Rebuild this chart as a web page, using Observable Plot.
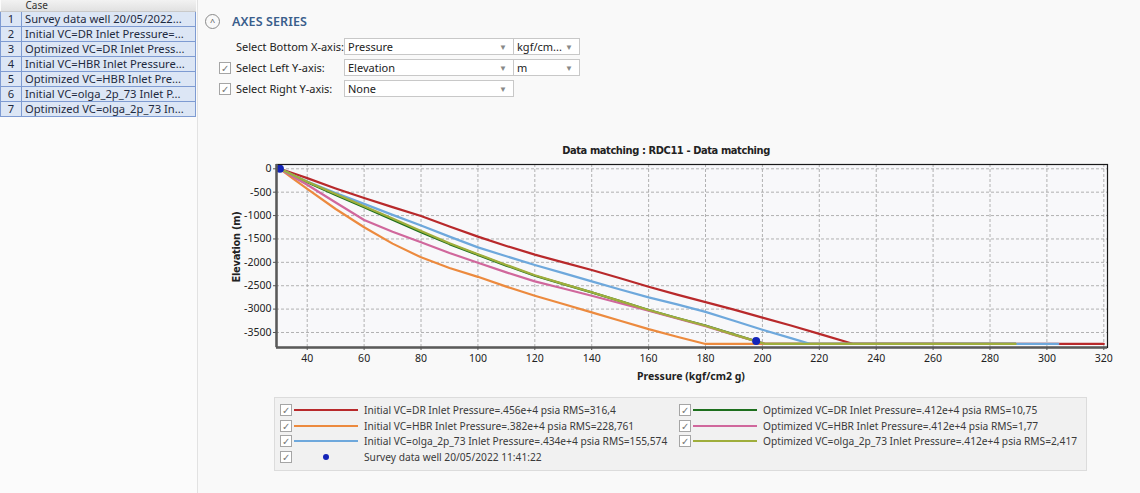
<!DOCTYPE html>
<html>
<head>
<meta charset="utf-8">
<script src="https://cdn.jsdelivr.net/npm/d3@7"></script>
<script src="https://cdn.jsdelivr.net/npm/@observablehq/plot@0.6"></script>
<style>
  html, body { margin: 0; padding: 0; }
  body { width: 1140px; height: 493px; background: #f9f9f9; position: relative; overflow: hidden;
         font-family: "Noto Sans", "Open Sans", sans-serif; color: #222; }
  .abs { position: absolute; }
  #leftpanel { left: 0; top: 0; width: 197px; height: 493px; background: #fbfbfb; border-right: 1px solid #e2e2e2; }
  table.cases { position: absolute; left: 0; top: 0; border-collapse: collapse; font-size: 11.2px; }
  table.cases td { height: 14px; padding: 0 0 0 4px; white-space: nowrap; line-height: 14px; }
  table.cases th { background: linear-gradient(#f2f2f2, #e1e1e1); font-weight: normal; text-align: left; border-bottom: 1px solid #c9c9c9;
                   height: 11px; line-height: 11px; font-size: 10px; color:#333; vertical-align: top; padding: 0 0 0 4px; }
  table.cases td { background: #dce6f5; border: 1px solid #7e9bd2; color: #1e2a40; }
  table.cases td.n { width: 17px; text-align: center; padding: 0; }
  table.cases td.c { width: 170px; padding-left: 3px; overflow: hidden; }
  .lbl { font-size: 11px; color: #222; }
  .dd { position: absolute; height: 17px; background: #fff; border: 1px solid #c8c8c8; font-size: 11px; line-height: 16px; padding-left: 3px; box-sizing: border-box; }
  .dd .arr { position: absolute; right: 6px; top: 0; color: #888; font-size: 8px; }
  .cb { position: absolute; width: 12px; height: 12px; border: 1px solid #a5a5a5; background: #fff; box-sizing: border-box;
        font-size: 10px; line-height: 11px; text-align: center; color: #777; }
  #legend { left: 274px; top: 397px; width: 813px; height: 74px; background: #f1f1f1; border: 1px solid #dcdcdc; box-sizing: border-box; }
  .lgtext { position: absolute; font-size: 10.2px; color: #3a3a3a; white-space: nowrap; line-height: 14px; }
  .lgline { position: absolute; height: 2px; }
  .cond { font-family: 'Liberation Sans Narrow', 'DejaVu Sans Condensed', sans-serif; font-weight: bold; }
</style>
</head>
<body>
<div id="leftpanel" class="abs">
  <table class="cases" id="cases"></table>
</div>

<!-- Axes series panel -->
<div class="abs" style="left:205px;top:14px;width:15px;height:15px;border:1px solid #8a8a8a;border-radius:50%;box-sizing:border-box;text-align:center;font-size:9px;line-height:13px;color:#555;">&#94;</div>
<div class="abs" style="left:232px;top:13px;font-size:12.5px;font-weight:600;color:#3a5e8c;letter-spacing:0.1px;">AXES SERIES</div>

<div class="abs lbl" style="left:236px;top:39px;">Select Bottom X-axis:</div>
<div class="dd" style="left:344px;top:38px;width:170px;">Pressure<span class="arr">&#9660;</span></div>
<div class="dd" style="left:513px;top:38px;width:67px;">kgf/cm...<span class="arr">&#9660;</span></div>

<div class="cb" style="left:219px;top:62px;">&#10003;</div>
<div class="abs lbl" style="left:236px;top:60px;">Select Left Y-axis:</div>
<div class="dd" style="left:344px;top:59px;width:170px;">Elevation<span class="arr">&#9660;</span></div>
<div class="dd" style="left:513px;top:59px;width:67px;">m<span class="arr">&#9660;</span></div>

<div class="cb" style="left:219px;top:83px;">&#10003;</div>
<div class="abs lbl" style="left:236px;top:81px;">Select Right Y-axis:</div>
<div class="dd" style="left:344px;top:80px;width:170px;">None<span class="arr">&#9660;</span></div>

<div class="abs cond" style="left:200px;top:144px;width:932px;text-align:center;font-size:11px;letter-spacing:-0.4px;color:#222;">Data matching : RDC11 - Data matching</div>

<div id="chart" class="abs" style="left:200px;top:140px;"></div>

<div class="abs cond" style="left:236px;top:247px;transform:translate(-50%,-50%) rotate(-90deg);font-size:11px;letter-spacing:-0.3px;white-space:nowrap;color:#222;">Elevation (m)</div>
<div class="abs" style="left:691px;top:369px;transform:translateX(-50%);font-weight:bold;font-size:10.5px;white-space:nowrap;color:#222;">Pressure (kgf/cm2 g)</div>

<div id="legend" class="abs"></div>

<script>
// ---- Case table ----
const caseNames = [
  "Survey data well 20/05/2022...",
  "Initial VC=DR Inlet Pressure=...",
  "Optimized VC=DR Inlet Press...",
  "Initial VC=HBR Inlet Pressure...",
  "Optimized VC=HBR Inlet Pre...",
  "Initial VC=olga_2p_73 Inlet P...",
  "Optimized VC=olga_2p_73 In..."
];

// ---- Axis ticks ----
const xTicks = [40, 60, 80, 100, 120, 140, 160, 180, 200, 220, 240, 260, 280, 300, 320];
const yTicks = [0, -500, -1000, -1500, -2000, -2500, -3000, -3500];
const xDomain = [29.2, 321.3];
const yDomain = [-3821, 92];

// ---- Series (pressure kgf/cm2 g, elevation m) ----
const seriesNames = [
  "Initial VC=DR Inlet Pressure=.456e+4 psia RMS=316,4",
  "Optimized VC=DR Inlet Pressure=.412e+4 psia RMS=10,75",
  "Initial VC=HBR Inlet Pressure=.382e+4 psia RMS=228,761",
  "Optimized VC=HBR Inlet Pressure=.412e+4 psia RMS=1,77",
  "Initial VC=olga_2p_73 Inlet Pressure=.434e+4 psia RMS=155,574",
  "Optimized VC=olga_2p_73 Inlet Pressure=.412e+4 psia RMS=2,417"
];
const seriesColors = ["#b8292b", "#1d6f1d", "#ec8a3e", "#d0679c", "#6ea8dc", "#9fae3c"];

const redP   = [30.4, 35, 40, 50, 60, 70, 80, 90, 100, 110, 120, 130, 140, 150, 160, 170, 180, 190, 200, 210, 220, 232, 320];
const redE   = [0, -95, -200, -420, -625, -820, -1010, -1235, -1450, -1650, -1836, -2000, -2164, -2340, -2521, -2690, -2850, -3010, -3182, -3350, -3530, -3745, -3745];

const greenP = [30.4, 35, 40, 50, 60, 70, 80, 90, 100, 110, 120, 130, 140, 150, 160, 170, 180, 190, 201, 289];
const greenE = [0, -140, -290, -560, -821, -1090, -1357, -1610, -1840, -2070, -2286, -2465, -2643, -2830, -3021, -3190, -3350, -3540, -3745, -3745];

const orangeP = [30.4, 35, 40, 50, 60, 70, 80, 90, 100, 110, 120, 130, 140, 150, 160, 170, 180, 268];
const orangeE = [0, -210, -430, -860, -1250, -1600, -1893, -2120, -2310, -2520, -2714, -2890, -3071, -3250, -3429, -3590, -3745, -3745];

const pinkP  = [30.4, 35, 40, 50, 60, 70, 80, 90, 100, 110, 120, 130, 140, 150, 160, 170, 180, 190, 201, 289];
const pinkE  = [0, -170, -340, -720, -1095, -1345, -1571, -1800, -2010, -2215, -2407, -2560, -2714, -2875, -3036, -3200, -3365, -3550, -3745, -3745];

const blueP  = [30.4, 35, 40, 50, 60, 70, 80, 90, 100, 110, 120, 130, 140, 150, 160, 170, 180, 190, 200, 210, 217, 304];
const blueE  = [0, -130, -270, -520, -750, -985, -1214, -1450, -1680, -1870, -2057, -2230, -2407, -2580, -2750, -2900, -3060, -3250, -3440, -3620, -3745, -3745];

const oliveP = [30.4, 35, 40, 50, 60, 70, 80, 90, 100, 110, 120, 130, 140, 150, 160, 170, 180, 190, 201, 289];
const oliveE = [0, -130, -275, -540, -800, -1065, -1330, -1590, -1825, -2055, -2275, -2460, -2640, -2830, -3020, -3190, -3355, -3545, -3745, -3745];

const surveyName = "Survey data well 20/05/2022 11:41:22";
const surveyColor = "#1424b8";
const surveyP = [30.4, 197.8];
const surveyE = [0, -3680];

// ---- Build table ----
{
  const t = document.getElementById("cases");
  let h = '<tr><th style="width:17px;"></th><th>Case</th></tr>';
  caseNames.forEach((c, i) => { h += `<tr><td class="n">${i + 1}</td><td class="c">${c}</td></tr>`; });
  t.innerHTML = h;
}

// ---- Data for Plot ----
const pArr = [redP, greenP, orangeP, pinkP, blueP, oliveP];
const eArr = [redE, greenE, orangeE, pinkE, blueE, oliveE];
const lineData = [];
seriesNames.forEach((name, i) => {
  pArr[i].forEach((p, j) => lineData.push({ name, color: seriesColors[i], p, e: eArr[i][j] }));
});
const surveyData = surveyP.map((p, i) => ({ p, e: surveyE[i] }));

const chart = Plot.plot({
  width: 940,
  height: 252,
  marginLeft: 76,
  marginRight: 33,
  marginTop: 24,
  marginBottom: 45,
  style: { background: "transparent", fontFamily: "'Noto Sans', sans-serif", fontSize: "10.5px", color: "#222" },
  x: { domain: xDomain, label: null },
  y: { domain: yDomain, label: null },
  color: { type: "identity" },
  marks: [
    Plot.frame({ fill: "#f8f8fa", stroke: null }),
    Plot.gridX(xTicks, { stroke: "#a5a5a5", strokeOpacity: 0.85, strokeDasharray: "3,2" }),
    Plot.gridY(yTicks, { stroke: "#a5a5a5", strokeOpacity: 0.85, strokeDasharray: "3,2" }),
    Plot.line(lineData, { x: "p", y: "e", z: "name", stroke: "color", strokeWidth: 2.2 }),
    Plot.dot(surveyData, { x: "p", y: "e", r: 4, fill: surveyColor, stroke: null }),
    Plot.frame({ stroke: "#1a1a1a", strokeWidth: 1.2 }),
    Plot.ruleX([xDomain[0]], { stroke: "#5a5a5a", strokeWidth: 2.5 }),
    Plot.ruleY([yDomain[0]], { stroke: "#5a5a5a", strokeWidth: 2.5 }),
    Plot.axisX(xTicks, { tickSize: 3, tickPadding: 4, tickFormat: d => String(d), label: null, stroke: "#555" }),
    Plot.axisY(yTicks, { tickSize: 3, tickPadding: 2, tickFormat: d => String(d), label: null, stroke: "#555" })
  ]
});
document.getElementById("chart").appendChild(chart);

// ---- Legend ----
{
  const lg = document.getElementById("legend");
  const rowY = [5, 20.5, 36, 52];
  const leftCol = [0, 2, 4];   // red, orange, blue
  const rightCol = [1, 3, 5];  // green, pink, olive
  let h = "";
  const addRow = (x0, y, color, text, isDot) => {
    h += `<div class="cb" style="left:${x0}px;top:${y + 1}px;">&#10003;</div>`;
    if (isDot) {
      h += `<div style="position:absolute;left:${x0 + 43}px;top:${y + 4}px;width:6px;height:6px;border-radius:50%;background:${color}"></div>`;
    } else {
      h += `<div class="lgline" style="left:${x0 + 14}px;top:${y + 6}px;width:64px;background:${color}"></div>`;
    }
    h += `<div class="lgtext" style="left:${x0 + 84}px;top:${y}px;">${text}</div>`;
  };
  leftCol.forEach((s, i) => addRow(5, rowY[i], seriesColors[s], seriesNames[s], false));
  addRow(5, rowY[3], surveyColor, surveyName, true);
  rightCol.forEach((s, i) => addRow(404, rowY[i], seriesColors[s], seriesNames[s], false));
  lg.innerHTML = h;
}
</script>
</body>
</html>
